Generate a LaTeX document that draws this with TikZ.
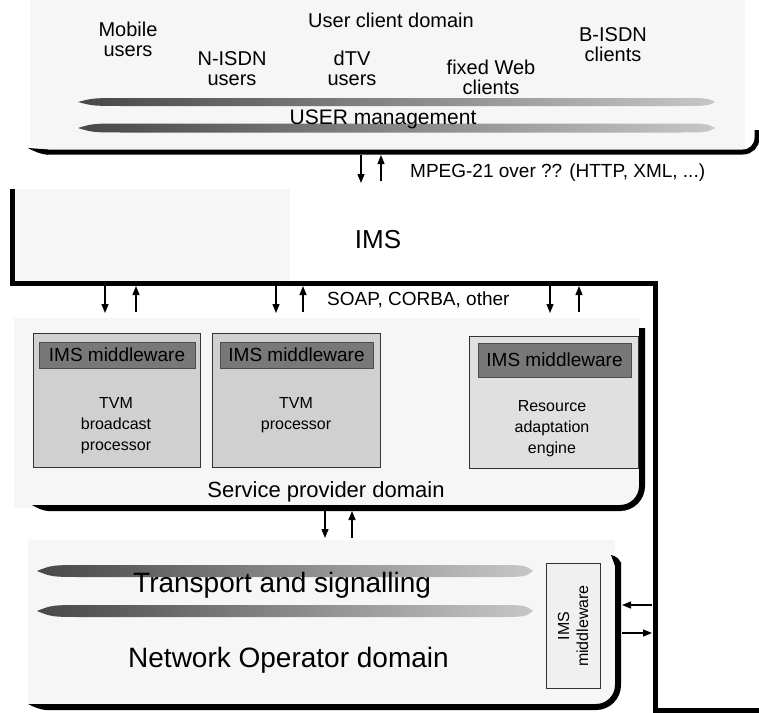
\documentclass[tikz,border=0pt]{standalone}
\usepackage{fontspec}
\setmainfont{Liberation Sans}
\usetikzlibrary{arrows.meta,positioning}
\definecolor{stipple}{RGB}{246,246,246}
\definecolor{boxgray}{RGB}{208,208,208}
\definecolor{boxlight}{RGB}{224,224,224}
\definecolor{headgray}{RGB}{120,120,120}
% one grey brush edge of a band: x1, x2, y, half thickness
\newcommand{\bandedge}[4]{%
  \shade[left color=black!72, right color=black!22]
    (#1,#3) .. controls (#1+15,#3-#4) .. (#1+50,#3-#4) -- (#2-40,#3-#4)
    .. controls (#2-8,#3-#4) .. (#2,#3) .. controls (#2-8,#3+#4) .. (#2-40,#3+#4)
    -- (#1+50,#3+#4) .. controls (#1+15,#3+#4) .. (#1,#3) -- cycle;}

\begin{document}
\begin{tikzpicture}[x=1pt,y=-1pt,
  frame/.style={line width=5pt},
  sig/.style={line width=1.3pt, -{Triangle[length=9pt,width=7pt]}},
  lbl/.style={font=\fontsize{20}{20}\selectfont, align=center, inner sep=0pt, anchor=north},
  note/.style={font=\fontsize{19}{19}\selectfont, inner sep=0pt, anchor=north west},
  procbox/.style={draw=black!80, line width=0.8pt, fill=boxgray, anchor=north west, inner sep=0pt},
  mwhead/.style={draw=black!70, line width=0.6pt, fill=headgray, inner sep=0pt,
                 font=\fontsize{19}{19}\selectfont},
  proctext/.style={font=\fontsize{16}{21}\selectfont, align=center, inner sep=0pt, anchor=north}]
  \useasboundingbox (0,0) rectangle (759,712);
  % Stippled domain areas
  \fill[stipple] (30,0) rectangle (745,150);
  \fill[stipple] (12,189) rectangle (290,283);
  \fill[stipple] (14,318) rectangle (640,508);
  \fill[stipple] (28,540) rectangle (615,705);

  % User client domain
  \node[lbl] (ucd) at (391,13) {User client domain};
  \node[lbl] (mobile) at (128,22) {Mobile\\users};
  \node[lbl] (nisdn) at (232,51) {N-ISDN\\users};
  \node[lbl] (dtv) at (352,51) {dTV\\users};
  \node[lbl] (fixweb) at (491,60) {fixed Web\\clients};
  \node[lbl] (bisdn) at (613,27) {B-ISDN\\clients};
  % USER management band
  \bandedge{78}{715}{102}{4}
  \bandedge{78}{715}{128}{4.5}
  \node[font=\fontsize{21}{21}\selectfont, inner sep=0pt, anchor=north] (usermgmt)
    at (383,110) {USER management};
  % User domain floor
  \fill (28,148) .. controls (34,151) and (40,154.5) .. (48,154.5) -- (48,149.5) -- cycle;
  \draw[frame, rounded corners=14] (46,152) -- (757,152) -- (757,130);

  % User <-> IMS
  \coordinate (uA) at (361,155); \coordinate (uB) at (361,183);
  \coordinate (uC) at (381,181); \coordinate (uD) at (381,155);
  \draw[sig] (uA) -- (uB);
  \draw[sig] (uC) -- (uD);
  \node[note] (mpeg) at (410,164) {MPEG-21 over ?? (HTTP, XML, ...)};

  % IMS frame
  \draw[frame] (12,189) -- (12,283) -- (655,283) -- (655,710) -- (762,710);
  \node[font=\fontsize{26}{26}\selectfont, inner sep=0pt, anchor=north] (ims) at (378,230) {IMS};

  % IMS <-> service provider
  \foreach \n/\xd/\xu in {a/105/136, b/276/303, c/550/579} {
    \coordinate (sd\n) at (\xd,286); \coordinate (se\n) at (\xd,313);
    \coordinate (su\n) at (\xu,312); \coordinate (sv\n) at (\xu,286);
    \draw[sig] (sd\n) -- (se\n);
    \draw[sig] (su\n) -- (sv\n);
  }
  \node[note] (soap) at (327,292) {SOAP, CORBA, other};

  % Service provider domain
  \node[procbox, minimum width=167, minimum height=134] (bcast) at (33,333) {};
  \node[mwhead, minimum width=156, minimum height=26] (bcasthd) at (117,355) {IMS middleware};
  \node[proctext] (bcasttx) at (116,397) {TVM\\broadcast\\processor};
  \node[procbox, minimum width=168, minimum height=134] (tvm) at (212,333) {};
  \node[mwhead, minimum width=153, minimum height=26] (tvmhd) at (296.5,355) {IMS middleware};
  \node[proctext] (tvmtx) at (296,397) {TVM\\processor};
  \node[procbox, fill=boxlight, minimum width=169, minimum height=132] (rae) at (469,336) {};
  \node[mwhead, minimum width=153, minimum height=34] (raehd) at (554.5,360) {IMS middleware};
  \node[proctext] (raetx) at (552,400) {Resource\\adaptation\\engine};
  \node[font=\fontsize{22}{22}\selectfont, inner sep=0pt, anchor=north] (spd)
    at (326,481) {Service provider domain};
  \fill (32,505) .. controls (38,508) and (42,511) .. (50,511) -- (50,505) -- cycle;
  \draw[frame, line width=6pt, rounded corners=22] (48,508) -- (642,508) -- (642,328);

  % Service provider <-> network operator
  \coordinate (nA) at (325,511); \coordinate (nB) at (325,538);
  \coordinate (nC) at (352,538); \coordinate (nD) at (352,511);
  \draw[sig] (nA) -- (nB);
  \draw[sig] (nC) -- (nD);

  % Network operator domain
  \bandedge{37}{533}{571}{6}
  \bandedge{37}{533}{611}{6}
  \node[font=\fontsize{28}{28}\selectfont, inner sep=0pt, anchor=north west] (transp)
    at (133,572) {Transport and signalling};
  \node[font=\fontsize{28}{28}\selectfont, inner sep=0pt, anchor=north west] (netop)
    at (128,647) {Network Operator domain};
  \node[draw=black!80, line width=0.8pt, fill=black!6, rotate=90, inner sep=0pt,
        minimum width=125, minimum height=54, align=center,
        font=\fontsize{16}{19}\selectfont] (netmw) at (573,626) {IMS\\middleware};
  \fill (28,704) .. controls (34,707) and (40,710) .. (48,710) -- (48,704) -- cycle;
  \draw[frame, line width=6pt, rounded corners=22] (46,707) -- (618,707) -- (618,562);
  \fill (611,555) .. controls (616,556) and (621,559) .. (621,566) -- (615,566) -- cycle;

  % IMS <-> network operator
  \coordinate (hA) at (652,605); \coordinate (hB) at (622,605);
  \coordinate (hC) at (622,633); \coordinate (hD) at (652,633);
  \draw[sig] (hA) -- (hB);
  \draw[sig] (hC) -- (hD);
\end{tikzpicture}
\end{document}
